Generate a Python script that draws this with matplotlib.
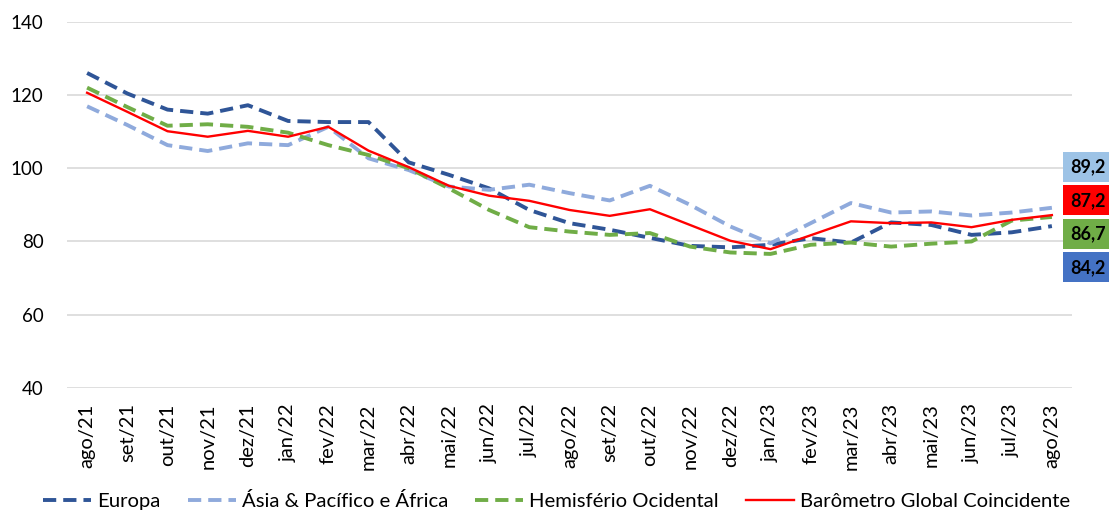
"""
Barômetro Global Coincidente e regiões (ago/21 – ago/23)
Saída: out.png
"""

import matplotlib
matplotlib.use("Agg")
import matplotlib.pyplot as plt
import matplotlib.transforms as mtransforms

plt.rcParams['font.family'] = ['Lato', 'DejaVu Sans']

# ── Dados ────────────────────────────────────────────────────────────────
meses = ["ago/21", "set/21", "out/21", "nov/21", "dez/21", "jan/22", "fev/22",
         "mar/22", "abr/22", "mai/22", "jun/22", "jul/22", "ago/22", "set/22",
         "out/22", "nov/22", "dez/22", "jan/23", "fev/23", "mar/23", "abr/23",
         "mai/23", "jun/23", "jul/23", "ago/23"]

europa = [126.0, 120.4, 116.0, 114.9, 117.2, 112.9, 112.6, 112.6, 101.6, 98.2,
          94.5, 88.6, 85.0, 83.2, 81.0, 78.8, 78.4, 79.1, 80.9, 79.7,
          85.2, 84.5, 81.8, 82.5, 84.2]
asia = [116.9, 111.8, 106.3, 104.7, 106.8, 106.3, 111.3, 102.7, 99.5, 95.0,
        94.1, 95.5, 93.2, 91.2, 95.2, 90.0, 84.1, 79.5, 85.0, 90.5,
        87.9, 88.2, 87.1, 87.9, 89.2]
hemisferio = [122.0, 116.7, 111.6, 112.0, 111.3, 109.7, 106.3, 103.6, 100.0, 94.5,
              88.6, 83.9, 82.7, 81.8, 82.3, 78.6, 77.0, 76.6, 79.1, 79.7,
              78.6, 79.4, 80.0, 85.7, 86.7]
barometro = [120.6, 115.4, 110.1, 108.6, 110.2, 108.6, 111.3, 104.8, 100.3, 95.2,
             92.5, 91.1, 88.6, 87.0, 88.8, 84.5, 80.2, 77.9, 81.7, 85.5,
             85.0, 85.2, 83.9, 85.9, 87.2]

nomes = ["Europa", "Ásia & Pacífico e África", "Hemisfério Ocidental",
         "Barômetro Global Coincidente"]

# caixas com o último valor (ordem de cima para baixo)
rotulos = ["89,2", "87,2", "86,7", "84,2"]
rotulos_y = [100.3, 91.2, 82.1, 72.9]
rotulos_cor = ["#9DC3E6", "#FF0000", "#70AD47", "#4472C4"]

# ── Figura ───────────────────────────────────────────────────────────────
fig = plt.figure(figsize=(11.09, 5.11), dpi=100)
ax = fig.add_axes([67 / 1109, 1 - 388 / 511, 1005 / 1109, (388 - 21.7) / 511])

x = range(len(meses))
tracejado = dict(lw=2.8, dashes=(3.4, 1.8), dash_capstyle='butt')
ax.plot(x, europa, color="#2F5597", label=nomes[0], **tracejado)
ax.plot(x, asia, color="#8FAADC", label=nomes[1], **tracejado)
ax.plot(x, hemisferio, color="#70AD47", label=nomes[2], **tracejado)
ax.plot(x, barometro, color="#FF0000", lw=1.7, label=nomes[3])

ax.set_xlim(-0.5, len(meses) - 0.5)
ax.set_ylim(40, 140)
ax.set_yticks(range(40, 141, 20))
ax.set_xticks(list(x))
ax.set_xticklabels(meses, rotation=90, fontsize=14.5)
ax.tick_params(axis='y', labelsize=13.5, length=0, pad=17)
ax.tick_params(axis='x', length=0, pad=11)
ax.grid(axis='y', color="#D9D9D9", lw=1.2)
ax.set_axisbelow(True)
for s in ax.spines.values():
    s.set_visible(False)

# caixas de valor à direita
trans = mtransforms.blended_transform_factory(ax.transAxes, ax.transData)
for txt, yv, cor in zip(rotulos, rotulos_y, rotulos_cor):
    ax.text(1.0155, yv, txt, transform=trans, ha='center', va='center',
            fontsize=13, fontweight='bold', color='black', clip_on=False,
            bbox=dict(boxstyle='square,pad=0.36', fc=cor, ec='none'))

fig.legend(loc='center', bbox_to_anchor=(0.502, 10 / 511), ncol=4, frameon=False,
           fontsize=14.6, handlelength=2.37, handletextpad=0.3,
           columnspacing=1.33, borderpad=0)

fig.savefig("out.png", dpi=100)
plt.close(fig)
